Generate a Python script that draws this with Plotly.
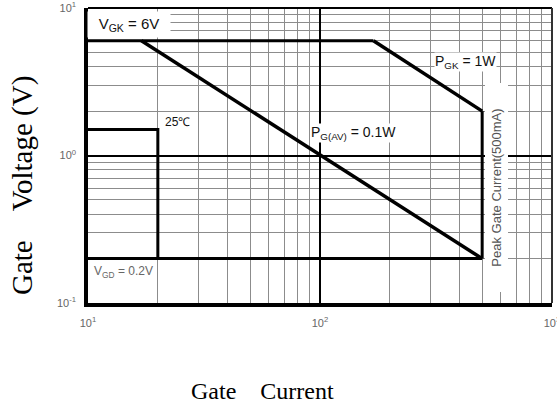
import plotly.graph_objects as go

# ---- data (mA, V) ----
vgk_x = [10, 170]
vgk_y = [6, 6]
pgk_x = [170, 500]
pgk_y = [6, 2]
peak_x = [500, 500]
peak_y = [2, 0.2]
vgd_x = [10, 500]
vgd_y = [0.2, 0.2]
pav_x = [17, 500]
pav_y = [6, 0.2]
t25_x = [10, 20, 20]
t25_y = [1.5, 1.5, 0.2]

x_ticks = [10, 100, 1000]
x_ticktext = ["10<sup>1</sup>", "10<sup>2</sup>", "10<sup>3</sup>"]
y_ticks = [0.1, 1, 10]
y_ticktext = ["10<sup>-1</sup>", "10<sup>0</sup>", "10<sup>1</sup>"]
x_minor = [20, 30, 40, 50, 60, 70, 80, 90, 200, 300, 400, 500, 600, 700, 800, 900]
y_minor = [0.2, 0.3, 0.4, 0.5, 0.6, 0.7, 0.8, 0.9, 2, 3, 4, 5, 6, 7, 8, 9]

W, H = 557, 408
ML, MR, MT, MB = 88, 5, 8, 105
PW, PH = W - ML - MR, H - MT - MB


def px(xp):
    return (xp - ML) / PW


def py(yp):
    return (H - MB - yp) / PH


fig = go.Figure()
segs = [
    (vgk_x, vgk_y, 3),
    (pgk_x, pgk_y, 3.5),
    (peak_x, peak_y, 3),
    (vgd_x, vgd_y, 3),
    (pav_x, pav_y, 3.5),
    (t25_x, t25_y, 3),
]
for xs, ys, w in segs:
    fig.add_trace(go.Scatter(x=xs, y=ys, mode="lines",
                             line=dict(color="black", width=w),
                             showlegend=False, hoverinfo="skip"))

tickfont = dict(family="Liberation Sans, Arial", size=11, color="#666666")

fig.update_xaxes(type="log", range=[1, 3], tickmode="array", tickvals=x_ticks,
                 ticktext=x_ticktext, tickfont=tickfont, showgrid=True,
                 gridcolor="black", gridwidth=1.5,
                 minor=dict(tickvals=x_minor, showgrid=True, gridcolor="#8c8c8c", gridwidth=1.3),
                 showline=True, linecolor="black", linewidth=3.5, ticks="",
                 ticklabelstandoff=7, zeroline=False, automargin=False,
                 ticklabeloverflow="allow")
fig.update_yaxes(type="log", range=[-1, 1], tickmode="array", tickvals=y_ticks,
                 ticktext=y_ticktext, tickfont=tickfont, showgrid=True,
                 gridcolor="black", gridwidth=1.5,
                 minor=dict(tickvals=y_minor, showgrid=True, gridcolor="#8c8c8c", gridwidth=1.3),
                 showline=True, linecolor="black", linewidth=3.5, ticks="",
                 ticklabelstandoff=6, zeroline=False, automargin=False,
                 ticklabeloverflow="allow")

# top / right frame
fig.add_shape(type="line", xref="paper", yref="paper", x0=0, x1=1, y0=1, y1=1,
              line=dict(color="black", width=2))
fig.add_shape(type="line", xref="paper", yref="paper", x0=1, x1=1, y0=0, y1=1,
              line=dict(color="#333333", width=2))

lab = "Liberation Sans, Arial"
anns = [
    dict(text="V<sub>GK</sub> = 6V", x=px(129), y=py(25), size=15, color="#111111",
         width=82, height=25),
    dict(text="P<sub>GK</sub> = 1W", x=px(465), y=py(62), size=14, color="#111111"),
    dict(text="P<sub>G(AV)</sub> = 0.1W", x=px(353), y=py(133), size=14, color="#111111"),
    dict(text="25℃", x=px(177), y=py(122), size=12, color="#111111"),
    dict(text="V<sub>GD</sub> = 0.2V", x=px(123.5), y=py(272), size=12, color="#666666"),
]
for a in anns:
    d = dict(text=a["text"], x=a["x"], y=a["y"], xref="paper", yref="paper",
             showarrow=False, xanchor="center", yanchor="middle",
             font=dict(family=lab, size=a["size"], color=a["color"]),
             bgcolor="white", borderpad=0)
    if "width" in a:
        d["width"] = a["width"]
        d["height"] = a["height"]
    fig.add_annotation(**d)

fig.add_annotation(text="Peak Gate Current(500mA)", x=px(496.5), y=py(188),
                   xref="paper", yref="paper", showarrow=False, textangle=-90,
                   xanchor="center", yanchor="middle", width=208, height=22,
                   font=dict(family=lab, size=13, color="#555555"),
                   bgcolor="white", borderpad=0)

# axis titles
gap = "\u00a0" * 4
fig.add_annotation(text="Gate" + gap + "Voltage (V)", x=px(22), y=py(186), xref="paper",
                   yref="paper", showarrow=False, textangle=-90,
                   xanchor="center", yanchor="middle",
                   font=dict(family="Liberation Serif, Times New Roman", size=29, color="black"))
fig.add_annotation(text="Gate" + gap + "Current", x=px(262), y=py(391), xref="paper",
                   yref="paper", showarrow=False,
                   xanchor="center", yanchor="middle",
                   font=dict(family="Liberation Serif, Times New Roman", size=24, color="black"))

fig.update_layout(width=W, height=H, margin=dict(l=ML, r=MR, t=MT, b=MB),
                  paper_bgcolor="white", plot_bgcolor="white", showlegend=False)

fig.write_html("out.html", config={"displayModeBar": False},
               post_script="document.body.style.margin='0px';")
